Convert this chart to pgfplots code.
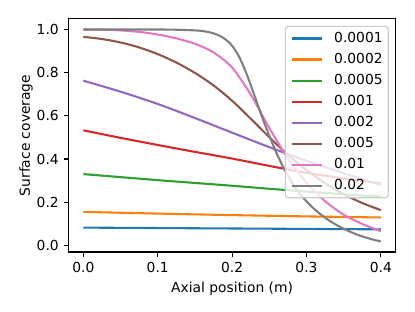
\documentclass[border=0pt]{standalone}
\usepackage{fontspec}
\setmainfont{DejaVu Sans}
\usepackage{pgfplots}
\pgfplotsset{compat=1.18}
\definecolor{c0}{HTML}{1F77B4}
\definecolor{c1}{HTML}{FF7F0E}
\definecolor{c2}{HTML}{2CA02C}
\definecolor{c3}{HTML}{D62728}
\definecolor{c4}{HTML}{9467BD}
\definecolor{c5}{HTML}{8C564B}
\definecolor{c6}{HTML}{E377C2}
\definecolor{c7}{HTML}{7F7F7F}
\definecolor{lgray}{gray}{0.8}
\begin{document}
\begin{tikzpicture}
\useasboundingbox (0,0) rectangle (298.8bp,224.64bp);
\begin{axis}[
  at={(49.3bp,43.2bp)}, anchor=south west,
  scale only axis, width=235.6bp, height=167.8bp,
  xmin=-0.02, xmax=0.42, ymin=-0.031, ymax=1.049,
  xtick={0,0.1,0.2,0.3,0.4}, ytick={0,0.2,0.4,0.6,0.8,1.0},
  xticklabel style={/pgf/number format/.cd, fixed, fixed zerofill, precision=1},
  yticklabel style={/pgf/number format/.cd, fixed, fixed zerofill, precision=1},
  /pgf/number format/assume math mode=true,
  tick pos=left, tick align=outside,
  major tick length=3.5bp,
  every tick/.style={black, line width=0.8bp},
  axis line style={line width=0.8bp},
  xlabel={Axial position (m)}, ylabel={Surface coverage},
  ylabel style={yshift=-4bp},
  legend style={at={(1,1)}, xshift=-5bp, yshift=-5bp, anchor=north east,
    draw=lgray, line width=0.8bp, rounded corners=2bp, fill=white, fill opacity=0.8, text opacity=1,
    inner xsep=4bp, inner ysep=3.7bp, row sep=5.2pt,
    nodes={inner sep=0pt, text height=8pt, text depth=2pt}},
  /tikz/every odd column/.append style={column sep=8.1bp},
  legend cell align=left,
  legend image code/.code={\draw[#1, line width=1.5bp] (0bp,0bp) -- (21.6bp,0bp);},
  every axis plot/.append style={line width=1.5bp, smooth, tension=0.5},
]
\addplot[c0] coordinates {(0,0.082) (0.1,0.080) (0.2,0.078) (0.3,0.076) (0.4,0.074)};
\addlegendentry{0.0001}
\addplot[c1] coordinates {(0,0.155) (0.1,0.147) (0.2,0.140) (0.3,0.134) (0.4,0.129)};
\addlegendentry{0.0002}
\addplot[c2] coordinates {(0,0.330) (0.05,0.316) (0.1,0.302) (0.15,0.289) (0.2,0.276) (0.25,0.262) (0.3,0.249) (0.35,0.237) (0.4,0.225)};
\addlegendentry{0.0005}
\addplot[c3] coordinates {(0,0.533) (0.05,0.498) (0.1,0.465) (0.15,0.433) (0.2,0.402) (0.25,0.368) (0.3,0.336) (0.35,0.310) (0.4,0.287)};
\addlegendentry{0.001}
\addplot[c4] coordinates {(0,0.763) (0.05,0.712) (0.1,0.655) (0.15,0.590) (0.2,0.522) (0.25,0.455) (0.3,0.392) (0.35,0.334) (0.4,0.280)};
\addlegendentry{0.002}
\addplot[c5] coordinates {(0,0.966) (0.025,0.956) (0.05,0.940) (0.075,0.917) (0.1,0.886) (0.125,0.847) (0.15,0.799) (0.175,0.741) (0.2,0.670) (0.225,0.587) (0.25,0.501) (0.275,0.420) (0.3,0.349) (0.325,0.288) (0.35,0.237) (0.375,0.196) (0.4,0.163)};
\addlegendentry{0.005}
\addplot[c6] coordinates {(0,1.000) (0.025,0.999) (0.05,0.996) (0.075,0.989) (0.1,0.977) (0.125,0.959) (0.15,0.934) (0.175,0.894) (0.2,0.824) (0.225,0.699) (0.25,0.544) (0.275,0.404) (0.3,0.290) (0.325,0.205) (0.35,0.142) (0.375,0.099) (0.4,0.065)};
\addlegendentry{0.01}
\addplot[c7] coordinates {(0,1.000) (0.1,1.000) (0.125,0.999) (0.15,0.996) (0.16,0.993) (0.17,0.987) (0.18,0.976) (0.19,0.957) (0.2,0.925) (0.21,0.870) (0.22,0.790) (0.23,0.695) (0.24,0.598) (0.25,0.508) (0.26,0.426) (0.27,0.354) (0.28,0.294) (0.29,0.244) (0.3,0.204) (0.31,0.170) (0.32,0.141) (0.33,0.116) (0.34,0.095) (0.35,0.077) (0.36,0.061) (0.37,0.047) (0.38,0.036) (0.39,0.026) (0.4,0.018)};
\addlegendentry{0.02}
\end{axis}
\end{tikzpicture}
\end{document}
